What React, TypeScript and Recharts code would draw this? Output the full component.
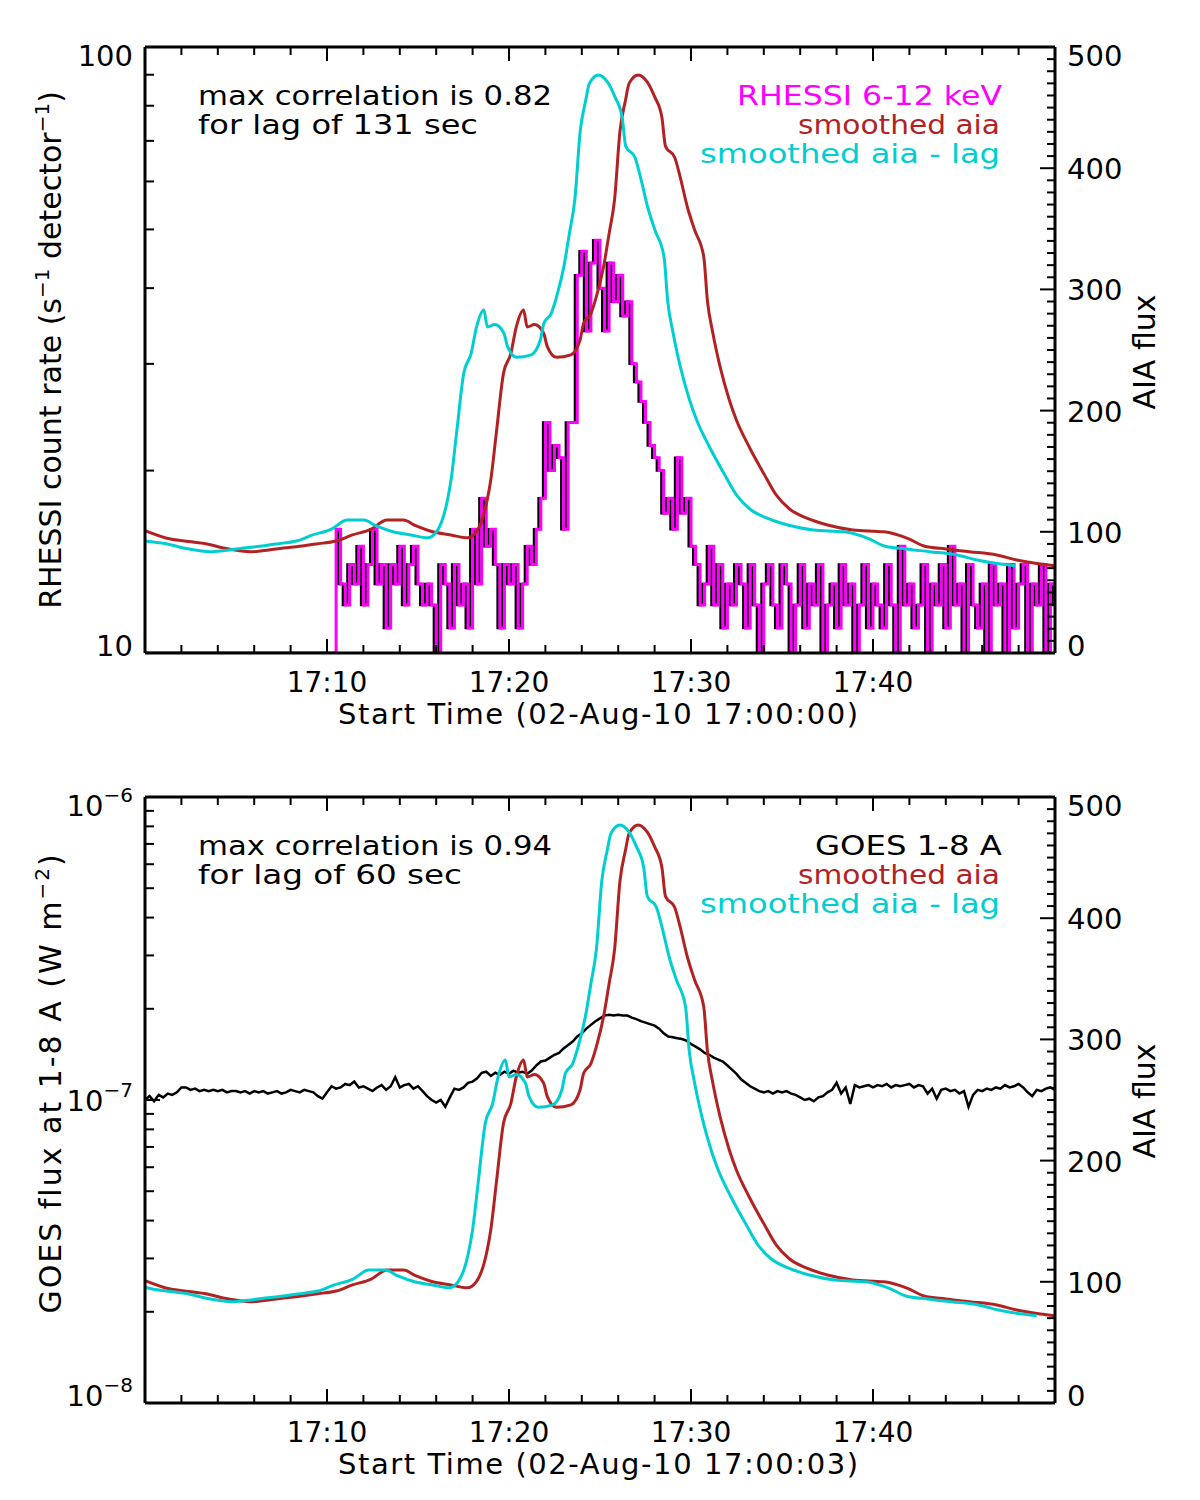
import { ComposedChart, Line, XAxis, YAxis } from "recharts";

const FONT = "'DejaVu Sans', 'Liberation Sans', sans-serif";
const MAGENTA = "#ff00ff";
const BROWN = "#b22222";
const CYAN = "#00ced1";
const AXIS_LINE = { stroke: "#000", strokeWidth: 3 };

// lags found by the cross-correlation, seconds
const LAG_TOP_SEC = 131;
const LAG_BOTTOM_SEC = 60;

// smoothed AIA flux, time in minutes after 17:00
const AIA_T = [
  0, 1.4, 2.4, 3.4, 4.3, 5.2, 5.9, 6.8, 7.6, 8.5,
  9.4, 10.5, 11.4, 12.4, 13.3, 14.2, 14.9, 15.8, 16.8, 17.7,
  18.2, 18.8, 19.0, 19.3, 19.7, 20.1, 20.4, 20.8, 21.0, 21.4,
  21.9, 22.1, 22.6, 23.4, 23.9, 24.1, 24.5, 24.8, 25.2, 25.5,
  25.8, 26.1, 26.4, 26.6, 27.1, 27.6, 28.0, 28.4, 28.6, 29.1,
  29.4, 29.8, 30.2, 30.7, 30.9, 31.2, 31.6, 32.1, 32.5, 33.2,
  34.0, 34.7, 35.4, 36.4, 37.5, 38.9, 40.6, 41.9, 42.8, 44.0,
  45.3, 46.8, 47.9, 49.2, 50,
];
const AIA_FLUX = [
  101, 94, 92, 90, 86.6, 84.4, 83.6, 85, 86.6, 88,
  90, 92.4, 97.4, 102, 109.7, 109.7, 104.8, 100, 97.4, 95,
  100, 126, 143, 181, 231, 247, 269, 283, 269, 271,
  264, 253, 244, 246, 258, 272, 280, 294, 319, 346,
  374, 431, 456, 470, 477, 471, 459, 442, 418, 409,
  393, 368, 349, 327, 291, 264, 236, 209, 192, 170,
  148, 130, 119, 111, 105.6, 101.5, 100, 94.6, 88.3, 85.8,
  83.6, 80.9, 76.7, 73.4, 72,
];

// RHESSI 6-12 keV count rate, every 15 s from 17:10:30 (below 10 before that)
const RHESSI_T0 = 10.5;
const RHESSI_STEP = 0.25;
const RHESSI_RATE = [
  16, 13,
  12, 14, 13, 15, 12, 14, 16, 13, 14, 11, 14, 13, 15, 12, 14, 15,
  13, 12, 13, 12, 10, 14, 13, 11, 14, 12, 13, 11, 16, 13, 18, 15,
  16, 14, 11, 14, 13, 14, 11, 13, 15, 14, 16, 18, 24, 20, 22, 21,
  16, 24, 24, 42, 46, 34, 44, 48, 40, 34, 44, 38, 42, 36, 38, 30,
  28, 26, 24, 22, 21, 20, 17, 18, 16, 21, 17, 18, 15, 14, 12, 13,
  15, 12, 14, 11, 13, 12, 14, 13, 11, 14, 12, 10, 13, 14, 12, 11,
  14, 13, 10, 12, 14, 11, 13, 12, 14, 10, 12, 13, 11, 14, 12, 13,
  10, 12, 14, 11, 13, 12, 11, 14, 12, 10, 15, 12, 13, 11, 12, 14,
  10, 13, 12, 14, 11, 15, 12, 13, 10, 14, 12, 11, 13, 10, 14, 12,
  13, 10, 14, 11, 13, 14, 10, 13, 12, 14, 10, 13,
  12,
];
const RHESSI_FLOOR = 10;

// GOES 1-8 A flux in units of 1e-7 W m^-2, every 15 s from 17:00:03
const GOES_STEP = 0.25;
const GOES_E7 = [
  1.00, 1.03, 0.99, 1.04, 1.02, 1.05, 1.04, 1.06, 1.10, 1.10, 1.08, 1.09,
  1.07, 1.08, 1.07, 1.08, 1.07, 1.08, 1.06, 1.07, 1.07, 1.06, 1.07, 1.05,
  1.07, 1.06, 1.07, 1.05, 1.06, 1.07, 1.05, 1.06, 1.08, 1.07, 1.06, 1.08,
  1.07, 1.06, 1.03, 1.01, 1.06, 1.11, 1.09, 1.10, 1.13, 1.12, 1.15, 1.10,
  1.11, 1.09, 1.07, 1.10, 1.12, 1.08, 1.11, 1.19, 1.10, 1.12, 1.13, 1.09,
  1.11, 1.07, 1.03, 1.00, 0.98, 1.00, 0.95, 1.02, 1.09, 1.08, 1.10, 1.14,
  1.15, 1.18, 1.23, 1.24, 1.20, 1.23, 1.21, 1.24, 1.22, 1.25, 1.23, 1.24,
  1.22, 1.25, 1.30, 1.34, 1.35, 1.38, 1.41, 1.43, 1.48, 1.52, 1.56, 1.62,
  1.66, 1.72, 1.77, 1.82, 1.86, 1.90, 1.91, 1.90, 1.91, 1.90, 1.90, 1.87,
  1.85, 1.82, 1.80, 1.78, 1.76, 1.72, 1.66, 1.62, 1.61, 1.60, 1.59, 1.57,
  1.53, 1.50, 1.47, 1.43, 1.41, 1.38, 1.36, 1.34, 1.30, 1.26, 1.22, 1.17,
  1.14, 1.11, 1.09, 1.07, 1.06, 1.07, 1.05, 1.07, 1.06, 1.07, 1.05, 1.04,
  1.02, 1.00, 1.01, 0.99, 1.02, 1.03, 1.06, 1.08, 1.14, 1.05, 1.10, 0.97,
  1.12, 1.10, 1.11, 1.12, 1.10, 1.12, 1.11, 1.13, 1.10, 1.12, 1.11, 1.12,
  1.13, 1.10, 1.12, 1.11, 1.05, 1.09, 1.01, 1.08, 1.09, 1.07, 1.08, 1.05,
  1.07, 0.95, 1.04, 1.08, 1.07, 1.09, 1.08, 1.10, 1.09, 1.12, 1.10, 1.11,
  1.13, 1.10, 1.06, 1.03, 1.08, 1.07, 1.09, 1.10,
  1.08,
];

const X_MAJOR = [10, 20, 30, 40];
const X_LABELS = ["17:10", "17:20", "17:30", "17:40"];

// tables for recharts
const aiaTable = AIA_T.map((t, i) => ({ t, v: AIA_FLUX[i] }));
const laggedAia = (sec: number) => AIA_T.map((t, i) => ({ t: t - sec / 60, v: AIA_FLUX[i] }));
const rhessiCounts = RHESSI_RATE.map((v, i) => ({ t: RHESSI_T0 + i * RHESSI_STEP, v }));
const rhessiTable = [{ t: 0, v: RHESSI_FLOOR }].concat(rhessiCounts);
const goesTable = GOES_E7.map((v, i) => ({ t: i * GOES_STEP, v: v * 1e-7 }));

const xTicks = Array.from({ length: 26 }, (_, i) => i * 2);
const aiaTicks = Array.from({ length: 51 }, (_, i) => i * 10);
const rhessiTicks = Array.from({ length: 10 }, (_, i) => (i + 1) * 10);
const goesTicks = [-8, -7]
  .flatMap((e) => Array.from({ length: 9 }, (_, i) => (i + 1) * Math.pow(10, e)))
  .concat([1e-6]);

type TickProps = { x: number; y: number; payload: { value: number } };

function BottomTick({ x, y, payload }: TickProps) {
  const i = X_MAJOR.indexOf(payload.value);
  return (
    <g>
      <line x1={x} y1={y} x2={x} y2={y - (i >= 0 ? 14 : 8)} stroke="#000" strokeWidth={2} />
      {i >= 0 && (
        <text x={x} y={y + 39} textAnchor="middle" fontFamily={FONT} fontSize={28}>
          {X_LABELS[i]}
        </text>
      )}
    </g>
  );
}

function TopTick({ x, y, payload }: TickProps) {
  const major = X_MAJOR.includes(payload.value);
  return <line x1={x} y1={y} x2={x} y2={y + (major ? 14 : 8)} stroke="#000" strokeWidth={2} />;
}

function AiaTick({ x, y, payload }: TickProps) {
  const v = payload.value;
  const major = v % 100 === 0;
  const shift = v === 500 ? 8 : v === 0 ? -8 : 0;
  return (
    <g>
      <line x1={x} y1={y} x2={x - (major ? 15 : 8)} y2={y} stroke="#000" strokeWidth={2} />
      {major && (
        <text x={x + 12} y={y + shift} dy={11} fontFamily={FONT} fontSize={29}>
          {v}
        </text>
      )}
    </g>
  );
}

function RhessiTick({ x, y, payload }: TickProps) {
  const v = payload.value;
  const major = v === 10 || v === 100;
  const shift = v === 100 ? 8 : v === 10 ? -8 : 0;
  return (
    <g>
      <line x1={x} y1={y} x2={x + 9} y2={y} stroke="#000" strokeWidth={2} />
      {major && (
        <text x={x - 12} y={y + shift} dy={11} textAnchor="end" fontFamily={FONT} fontSize={29}>
          {v}
        </text>
      )}
    </g>
  );
}

function GoesTick({ x, y, payload }: TickProps) {
  const lg = Math.log10(payload.value);
  const e = Math.round(lg);
  const major = Math.abs(lg - e) < 1e-6;
  const shift = e === -6 && major ? 8 : e === -8 && major ? -8 : 0;
  return (
    <g>
      <line x1={x} y1={y} x2={x + (major ? 15 : 9)} y2={y} stroke="#000" strokeWidth={2} />
      {major && (
        <text x={x - 12} y={y + shift} dy={11} textAnchor="end" fontFamily={FONT} fontSize={29}>
          10
          <tspan dy={-14} fontSize={20}>
            {"\u2212" + Math.abs(e)}
          </tspan>
        </text>
      )}
    </g>
  );
}

const MARGIN = { top: 27, right: 45, bottom: 37, left: 45 };
const NOTE_SIZE = 26;
const NOTE_Y = [105, 134, 163];

function Overlay({ children }: { children: React.ReactNode }) {
  return (
    <svg
      width={1200}
      height={750}
      style={{ position: "absolute", left: 0, top: 0, pointerEvents: "none" }}
      fontFamily={FONT}
      fontSize={30}
    >
      {children}
    </svg>
  );
}

function Note({ x, row, width, color = "#000", end = false, text }: {
  x: number; row: number; width: number; color?: string; end?: boolean; text: string;
}) {
  return (
    <text
      x={x}
      y={NOTE_Y[row]}
      textAnchor={end ? "end" : "start"}
      fill={color}
      fontSize={NOTE_SIZE}
      textLength={width}
      lengthAdjust="spacingAndGlyphs"
    >
      {text}
    </text>
  );
}

function xAxes() {
  return [
    <XAxis
      key="b"
      xAxisId="b"
      type="number"
      dataKey="t"
      domain={[0, 50]}
      ticks={xTicks}
      interval={0}
      allowDataOverflow
      height={60}
      tickSize={0}
      tickMargin={0}
      tickLine={false}
      tick={BottomTick}
      axisLine={AXIS_LINE}
    />,
    <XAxis
      key="t"
      xAxisId="t"
      orientation="top"
      type="number"
      dataKey="t"
      domain={[0, 50]}
      ticks={xTicks}
      interval={0}
      allowDataOverflow
      height={20}
      tickSize={0}
      tickMargin={0}
      tickLine={false}
      tick={TopTick}
      axisLine={AXIS_LINE}
    />,
  ];
}

function aiaAxis() {
  return (
    <YAxis
      yAxisId="aia"
      orientation="right"
      type="number"
      domain={[0, 500]}
      ticks={aiaTicks}
      interval={0}
      allowDataOverflow
      width={100}
      tickSize={0}
      tickMargin={0}
      tickLine={false}
      tick={AiaTick}
      axisLine={AXIS_LINE}
    />
  );
}

function RhessiPanel() {
  return (
    <div style={{ position: "relative", width: 1200, height: 750 }}>
      <ComposedChart width={1200} height={750} margin={MARGIN}>
        {xAxes()}
        <YAxis
          yAxisId="rhessi"
          scale="log"
          type="number"
          domain={[10, 100]}
          ticks={rhessiTicks}
          interval={0}
          allowDataOverflow
          width={100}
          tickSize={0}
          tickMargin={0}
          tickLine={false}
          tick={RhessiTick}
          axisLine={AXIS_LINE}
        />
        {aiaAxis()}
        <Line xAxisId="b" yAxisId="rhessi" data={rhessiCounts} dataKey="v" type="step"
          stroke="#000" strokeWidth={2.5} dot={false} activeDot={false} isAnimationActive={false} />
        <Line xAxisId="b" yAxisId="rhessi" data={rhessiTable} dataKey="v" type="stepAfter"
          stroke={MAGENTA} strokeWidth={3} dot={false} activeDot={false} isAnimationActive={false} />
        <Line xAxisId="b" yAxisId="aia" data={aiaTable} dataKey="v" type="monotone"
          stroke={BROWN} strokeWidth={3} dot={false} activeDot={false} isAnimationActive={false} />
        <Line xAxisId="b" yAxisId="aia" data={laggedAia(LAG_TOP_SEC)} dataKey="v" type="monotone"
          stroke={CYAN} strokeWidth={3} dot={false} activeDot={false} isAnimationActive={false} />
      </ComposedChart>
      <Overlay>
        <Note x={198} row={0} width={354} text="max correlation is 0.82" />
        <Note x={198} row={1} width={280} text="for lag of 131 sec" />
        <Note x={1002} row={0} width={265} end color={MAGENTA} text="RHESSI 6-12 keV" />
        <Note x={1000} row={1} width={202} end color={BROWN} text="smoothed aia" />
        <Note x={1000} row={2} width={300} end color={CYAN} text="smoothed aia - lag" />
        <text x={598} y={724} textAnchor="middle" fontSize={29} textLength={520} lengthAdjust="spacing">Start Time (02-Aug-10 17:00:00)</text>
        <text transform="rotate(-90)" x={-350} y={61} textAnchor="middle">
          RHESSI count rate (s<tspan dy={-12} fontSize={20}>{"\u22121"}</tspan>
          <tspan dy={12}> detector</tspan>
          <tspan dy={-12} fontSize={20}>{"\u22121"}</tspan>
          <tspan dy={12}>)</tspan>
        </text>
        <text transform="rotate(-90)" x={-352} y={1155} textAnchor="middle">AIA flux</text>
      </Overlay>
    </div>
  );
}

function GoesPanel() {
  return (
    <div style={{ position: "relative", width: 1200, height: 750 }}>
      <ComposedChart width={1200} height={750} margin={MARGIN}>
        {xAxes()}
        <YAxis
          yAxisId="goes"
          scale="log"
          type="number"
          domain={[1e-8, 1e-6]}
          ticks={goesTicks}
          interval={0}
          allowDataOverflow
          width={100}
          tickSize={0}
          tickMargin={0}
          tickLine={false}
          tick={GoesTick}
          axisLine={AXIS_LINE}
        />
        {aiaAxis()}
        <Line xAxisId="b" yAxisId="goes" data={goesTable} dataKey="v" type="linear"
          stroke="#000" strokeWidth={2.5} dot={false} activeDot={false} isAnimationActive={false} />
        <Line xAxisId="b" yAxisId="aia" data={aiaTable} dataKey="v" type="monotone"
          stroke={BROWN} strokeWidth={3} dot={false} activeDot={false} isAnimationActive={false} />
        <Line xAxisId="b" yAxisId="aia" data={laggedAia(LAG_BOTTOM_SEC)} dataKey="v" type="monotone"
          stroke={CYAN} strokeWidth={3} dot={false} activeDot={false} isAnimationActive={false} />
      </ComposedChart>
      <Overlay>
        <Note x={198} row={0} width={354} text="max correlation is 0.94" />
        <Note x={198} row={1} width={264} text="for lag of 60 sec" />
        <Note x={1002} row={0} width={187} end text="GOES 1-8 A" />
        <Note x={1000} row={1} width={202} end color={BROWN} text="smoothed aia" />
        <Note x={1000} row={2} width={300} end color={CYAN} text="smoothed aia - lag" />
        <text x={598} y={724} textAnchor="middle" fontSize={29} textLength={520} lengthAdjust="spacing">Start Time (02-Aug-10 17:00:03)</text>
        <text transform="rotate(-90)" x={-333} y={61} textAnchor="middle" letterSpacing={2}>
          GOES flux at 1-8 A (W m<tspan dy={-12} fontSize={20}>{"\u22122"}</tspan>
          <tspan dy={12}>)</tspan>
        </text>
        <text transform="rotate(-90)" x={-351} y={1155} textAnchor="middle">AIA flux</text>
      </Overlay>
    </div>
  );
}

export default function App() {
  return (
    <div style={{ position: "absolute", left: 0, top: 0, width: 1200, height: 1500, background: "#fff" }}>
      <RhessiPanel />
      <GoesPanel />
    </div>
  );
}
